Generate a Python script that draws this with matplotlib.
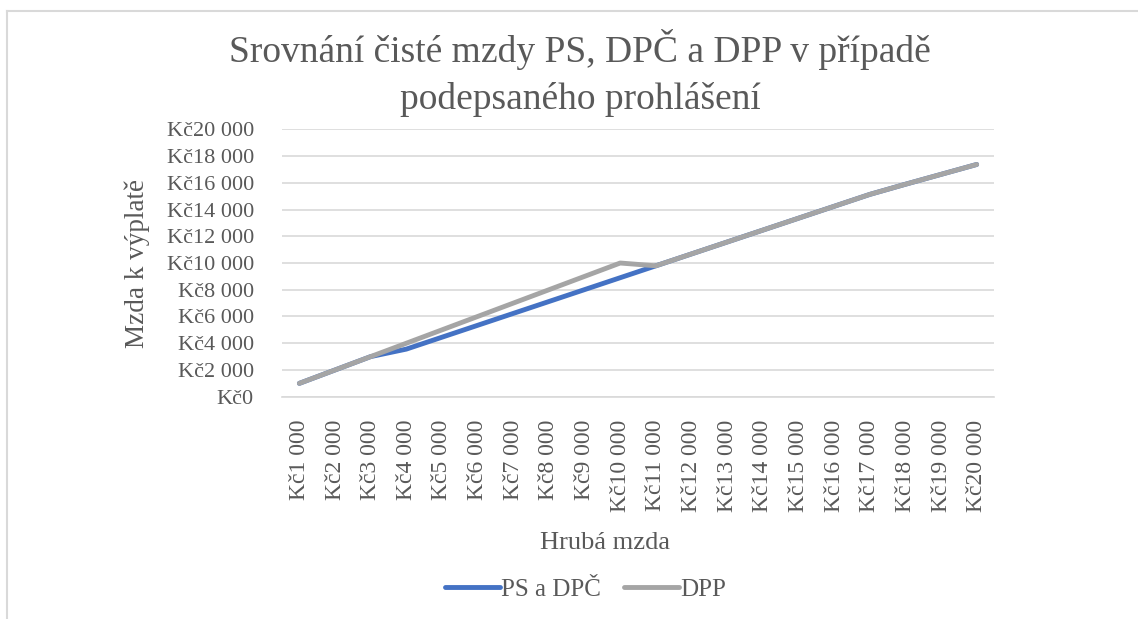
import numpy as np
import matplotlib
matplotlib.use("Agg")
import matplotlib.pyplot as plt
from matplotlib.ticker import FuncFormatter

# =============================================================================
# Data
# =============================================================================
hruba_mzda = [1000, 2000, 3000, 4000, 5000, 6000, 7000, 8000, 9000, 10000,
              11000, 12000, 13000, 14000, 15000, 16000, 17000, 18000, 19000, 20000]
ps_dpc = [1000, 2000, 3000, 3560, 4450, 5340, 6230, 7120, 8010, 8900,
          9790, 10680, 11570, 12460, 13350, 14240, 15130, 15890, 16630, 17370]
dpp = [1000, 2000, 3000, 4000, 5000, 6000, 7000, 8000, 9000, 10000,
       9790, 10680, 11570, 12460, 13350, 14240, 15130, 15890, 16630, 17370]

title = "Srovnání čisté mzdy PS, DPČ a DPP v případě\npodepsaného prohlášení"
x_label = "Hrubá mzda"
y_label = "Mzda k výplatě"
series_names = ["PS a DPČ", "DPP"]


def kc(v):
    s = f"{int(v):,}".replace(",", " ")
    return "Kč" + s


plt.rcParams['font.family'] = ['Liberation Serif', 'DejaVu Serif']
text_color = "#595959"
grid_color = "#d9d9d9"

fig = plt.figure(figsize=(11.38, 6.19), dpi=100)
ax = fig.add_axes([0.2474, 0.3591, 0.6265, 0.432])

x = np.arange(len(hruba_mzda))
ax.plot(x, ps_dpc, color="#4472C4", lw=3.5, solid_capstyle="round", solid_joinstyle="round",
        label=series_names[0], zorder=3)
ax.plot(x, dpp, color="#A5A5A5", lw=3.5, solid_capstyle="round", solid_joinstyle="round",
        label=series_names[1], zorder=4)

ax.set_xlim(-0.5, len(hruba_mzda) - 0.5)
ax.set_ylim(0, 20000)
ax.set_yticks(np.arange(0, 20001, 2000))
ax.yaxis.set_major_formatter(FuncFormatter(lambda v, p: kc(v)))
ax.set_xticks(x)
ax.set_xticklabels([kc(v) for v in hruba_mzda], rotation=90)
ax.tick_params(axis="both", length=0, colors=text_color)
ax.tick_params(axis="y", pad=20, labelsize=16)
ax.tick_params(axis="x", pad=16.5, labelsize=17)
ax.grid(axis="y", color=grid_color, lw=1.2)
ax.set_axisbelow(True)
for sp in ["top", "right", "left"]:
    ax.spines[sp].set_visible(False)
ax.spines["bottom"].set_color(grid_color)
ax.spines["bottom"].set_linewidth(1.2)

fig.text(0.5097, 0.882, title, ha="center", va="center", fontsize=27,
         color=text_color, linespacing=1.45)
fig.text(0.532, 0.123, x_label, ha="center", va="center", fontsize=19, color=text_color)
fig.text(0.121, 0.574, y_label, ha="center", va="center", rotation=90, fontsize=19.5,
         color=text_color)

fig.legend(loc="center", bbox_to_anchor=(0.5145, 0.047), ncol=2, frameon=False,
           fontsize=18, handlelength=2.2, handletextpad=0.05, columnspacing=0.92,
           labelcolor=text_color)

# chart border (partially visible in reference)
fig.add_artist(plt.Line2D([0.0065, 1.0], [0.983, 0.983], color=grid_color, lw=1.5,
                          transform=fig.transFigure))
fig.add_artist(plt.Line2D([0.0065, 0.0065], [0.0, 0.983], color=grid_color, lw=1.5,
                          transform=fig.transFigure))

fig.savefig("out.png", dpi=100)
